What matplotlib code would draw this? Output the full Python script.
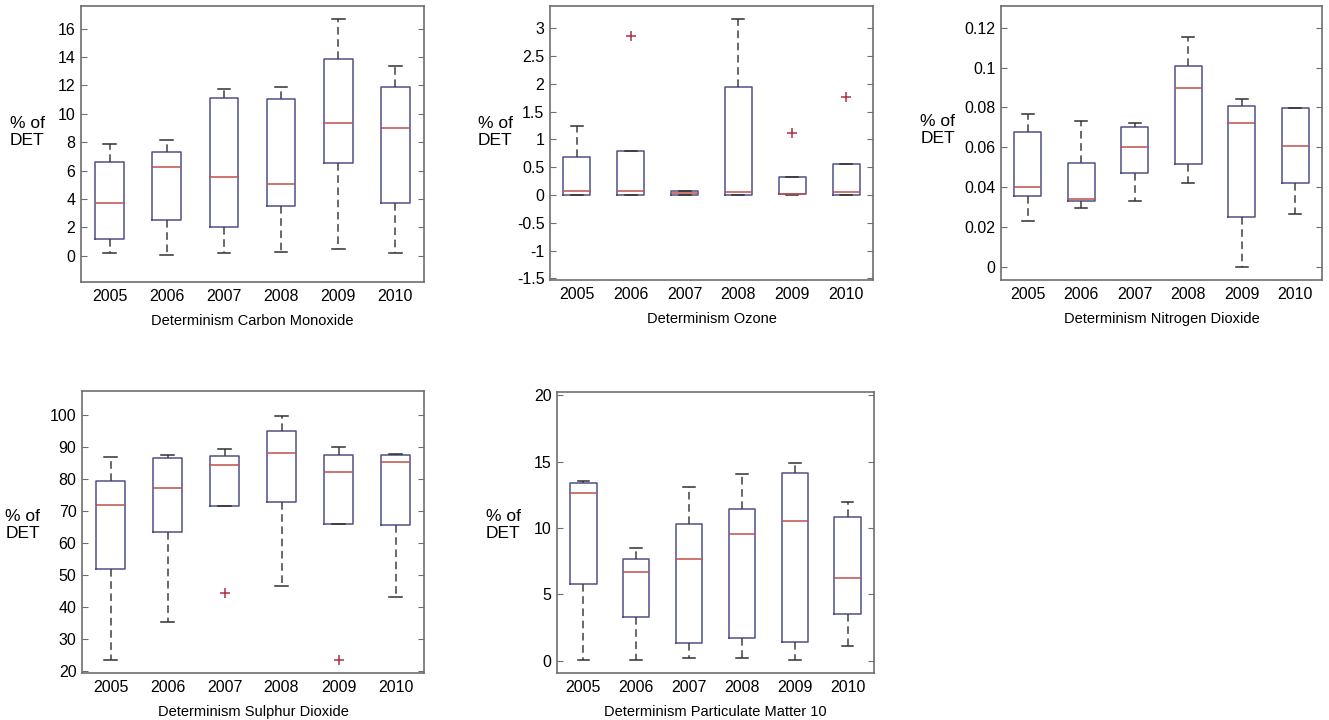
import matplotlib
matplotlib.use('Agg')
import matplotlib.pyplot as plt

plt.rcParams['font.family'] = ['Liberation Sans', 'DejaVu Sans']

years = ['2005', '2006', '2007', '2008', '2009', '2010']

# whisker low, q1, median, q3, whisker high, outliers
co_lo = [0.16, 0.07, 0.16, 0.28, 0.47, 0.21]
co_q1 = [1.15, 2.49, 2.0, 3.5, 6.53, 3.71]
co_med = [3.73, 6.27, 5.54, 5.05, 9.37, 8.97]
co_q3 = [6.6, 7.28, 11.1, 11.03, 13.87, 11.9]
co_hi = [7.86, 8.15, 11.76, 11.9, 16.67, 13.4]
co_out = [[], [], [], [], [], []]

o3_lo = [0, 0, 0, 0, 0, 0]
o3_q1 = [0, 0, 0, 0, 0.01, 0]
o3_med = [0.07, 0.08, 0.03, 0.06, 0.025, 0.06]
o3_q3 = [0.68, 0.80, 0.07, 1.95, 0.32, 0.55]
o3_hi = [1.24, 0.80, 0.07, 3.17, 0.32, 0.55]
o3_out = [[], [2.86], [], [], [1.11], [1.76]]

no2_lo = [0.0229, 0.0294, 0.0329, 0.0421, 0.0, 0.0266]
no2_q1 = [0.0356, 0.0328, 0.0471, 0.0516, 0.0251, 0.0421]
no2_med = [0.0398, 0.0338, 0.060, 0.0898, 0.0722, 0.0607]
no2_q3 = [0.0677, 0.0521, 0.0702, 0.1008, 0.0807, 0.0797]
no2_hi = [0.0769, 0.073, 0.0722, 0.1153, 0.0841, 0.0797]
no2_out = [[], [], [], [], [], []]

so2_lo = [23.4, 35.4, 71.5, 46.4, 65.8, 43.0]
so2_q1 = [51.7, 63.3, 71.5, 72.9, 65.8, 65.5]
so2_med = [71.8, 77.1, 84.3, 88.1, 82.2, 85.4]
so2_q3 = [79.2, 86.4, 87.2, 94.9, 87.5, 87.5]
so2_hi = [86.9, 87.6, 89.3, 99.8, 90.1, 87.9]
so2_out = [[], [], [44.2], [], [23.3], []]

pm_lo = [0.05, 0.05, 0.23, 0.18, 0.05, 1.1]
pm_q1 = [5.79, 3.31, 1.33, 1.73, 1.43, 3.51]
pm_med = [12.66, 6.67, 7.67, 9.55, 10.5, 6.22]
pm_q3 = [13.41, 7.67, 10.28, 11.4, 14.11, 10.83]
pm_hi = [13.56, 8.47, 13.06, 14.06, 14.91, 11.98]
pm_out = [[], [], [], [], [], []]

W, H = 1329, 720
fig = plt.figure(figsize=(W / 100, H / 100), dpi=100)

panels = [
    ('Determinism Carbon Monoxide', (co_lo, co_q1, co_med, co_q3, co_hi, co_out),
     (81, 424, 6, 282), (-1.85, 17.6), [0, 2, 4, 6, 8, 10, 12, 14, 16], 27, 132),
    ('Determinism Ozone', (o3_lo, o3_q1, o3_med, o3_q3, o3_hi, o3_out),
     (550, 873, 6, 280), (-1.53, 3.4), [-1.5, -1, -0.5, 0, 0.5, 1, 1.5, 2, 2.5, 3], 495, 132),
    ('Determinism Nitrogen Dioxide', (no2_lo, no2_q1, no2_med, no2_q3, no2_hi, no2_out),
     (1001, 1322, 6, 280), (-0.0067, 0.131), [0, 0.02, 0.04, 0.06, 0.08, 0.1, 0.12], 938, 130),
    ('Determinism Sulphur Dioxide', (so2_lo, so2_q1, so2_med, so2_q3, so2_hi, so2_out),
     (82, 424, 391, 673), (19.3, 107.5), [20, 30, 40, 50, 60, 70, 80, 90, 100], 23, 525),
    ('Determinism Particulate Matter 10', (pm_lo, pm_q1, pm_med, pm_q3, pm_hi, pm_out),
     (557, 874, 392, 673), (-0.92, 20.25), [0, 5, 10, 15, 20], 503, 525),
]

box_col = '#50508a'
frame_col = '#6e6e6e'

for title, (lo, q1, med, q3, hi, out), (l, r, t, b), ylim, yt, lx, ly in panels:
    ax = fig.add_axes([l / W, 1 - b / H, (r - l) / W, (b - t) / H])
    stats = []
    for i in range(len(years)):
        stats.append({'whislo': lo[i], 'q1': q1[i], 'med': med[i], 'q3': q3[i],
                      'whishi': hi[i], 'fliers': out[i], 'label': years[i]})
    ax.bxp(stats, widths=0.5, capwidths=0.22,
           boxprops=dict(color=box_col, linewidth=1.1),
           medianprops=dict(color='#c0504a', linewidth=1.1),
           whiskerprops=dict(color='#404040', linewidth=1.1, linestyle=(0, (5, 3))),
           capprops=dict(color='#303030', linewidth=1.1),
           flierprops=dict(marker='+', markeredgecolor='#b03040', markersize=7,
                           markeredgewidth=1.1, linestyle='none'))
    ax.set_xlim(0.5, 6.5)
    ax.set_ylim(*ylim)
    ax.set_yticks(yt)
    ax.set_yticklabels([('%g' % v) for v in yt])
    ax.tick_params(axis='y', direction='in', length=4, right=True, labelsize=11.5,
                   color=frame_col, pad=4)
    ax.tick_params(axis='x', length=0, labelsize=11.5, pad=5)
    for s in ax.spines.values():
        s.set_color(frame_col)
        s.set_linewidth(1.2)
    ax.set_xlabel(title, fontsize=10.5, labelpad=7)
    ax.set_ylabel('% of\nDET', rotation=0, fontsize=12.5, ha='center', va='center',
                  linespacing=1.1)
    ax.yaxis.set_label_coords((lx - l) / (r - l), (b - ly) / (b - t))

fig.savefig('out.png', dpi=100)
